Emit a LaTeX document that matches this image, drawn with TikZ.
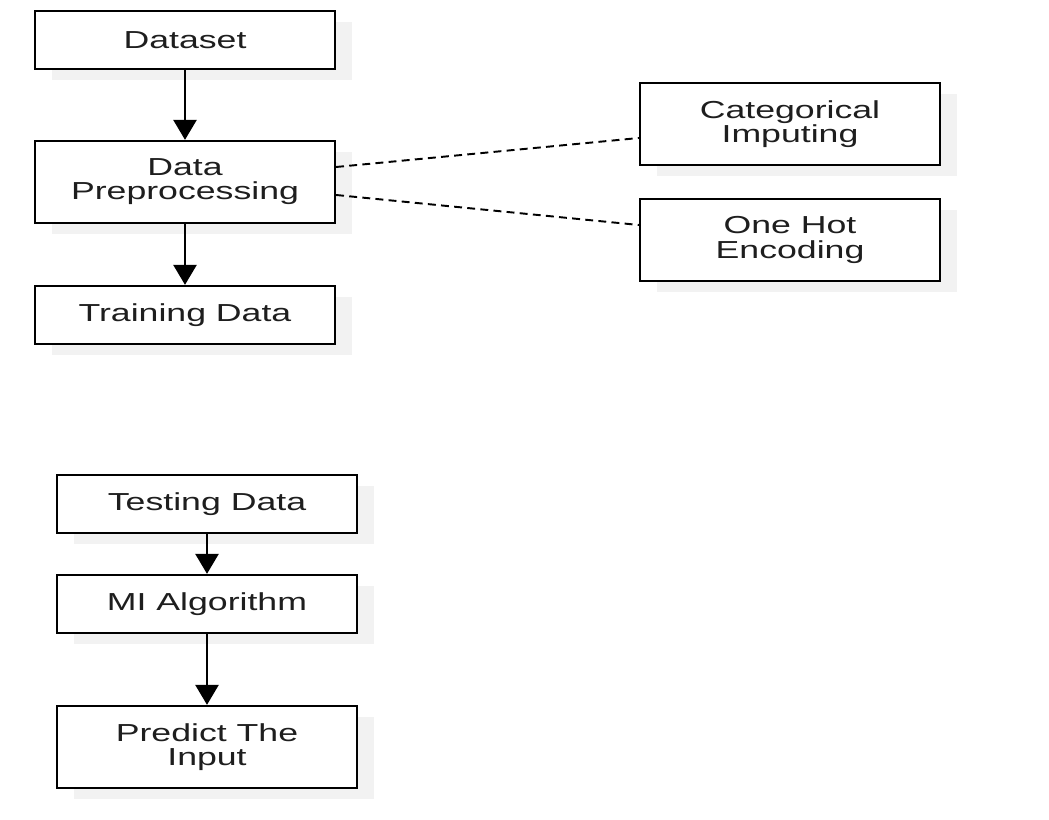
\documentclass[tikz,border=0pt]{standalone}
\usepackage{fontspec}
\setmainfont{Liberation Sans}[FakeStretch=1.45]
\usepackage{tikz}
\usetikzlibrary{positioning,arrows.meta,shadows}
\definecolor{txtclr}{RGB}{30,30,30}
\definecolor{shdclr}{RGB}{242,242,242}
\tikzset{
  box/.style={rectangle,draw=black,line width=1.3pt,fill=white,
              minimum width=6cm,minimum height=1.16cm,inner sep=2pt,
              align=center,text=txtclr,font=\fontsize{14}{13.7}\selectfont,
              general shadow={fill=shdclr,shadow xshift=0.34cm,shadow yshift=-0.22cm}},
  tall/.style={box,minimum height=1.64cm},
  flow/.style={-{Triangle[length=4mm,width=4.6mm]},line width=1.5pt},
  link/.style={line width=1.1pt,dash pattern=on 4.5pt off 3pt},
}

\begin{document}
\begin{tikzpicture}[x=0.02cm,y=-0.02cm]
\useasboundingbox (0,0) rectangle (1049,820);
% training branch
\node[box]  (data)  at (185,40)  {Dataset};
\node[tall] (prep)  at (185,182) {Data\\Preprocessing};
\node[box]  (train) at (185,315) {Training Data};
% preprocessing steps
\node[tall] (cat)    at (790,124) {Categorical\\Imputing};
\node[tall] (onehot) at (790,240) {One Hot\\Encoding};
% testing branch
\node[box]  (test) at (207,504) {Testing Data};
\node[box]  (algo) at (207,604) {MI Algorithm};
\node[tall] (pred) at (207,747) {Predict The\\Input};

\draw[flow] (data) -- (prep);
\draw[flow] (prep) -- (train);
\draw[flow] (test) -- (algo);
\draw[flow] (algo) -- (pred);
\draw[link] ([yshift=0.3cm]prep.east) -- ([yshift=-0.28cm]cat.west);
\draw[link] ([yshift=-0.26cm]prep.east) -- ([yshift=0.3cm]onehot.west);
\end{tikzpicture}
\end{document}
